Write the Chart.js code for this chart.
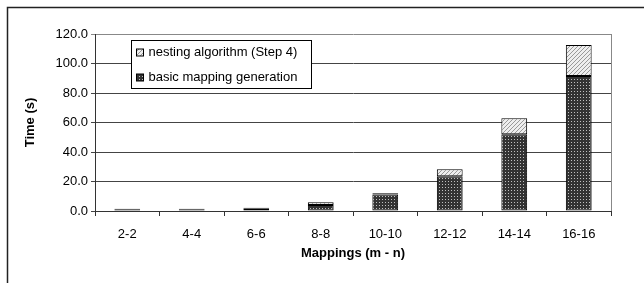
<!DOCTYPE html>
<html>
<head>
<meta charset="utf-8">
<script src="https://cdn.jsdelivr.net/npm/chart.js@4"></script>
<style>
  html, body { margin: 0; padding: 0; background: #fff; }
  #wrap { width: 644px; height: 283px; }
</style>
</head>
<body>
<div id="wrap"><canvas id="myChart" width="644" height="283"></canvas></div>
<script>
const mappings = ["2-2", "4-4", "6-6", "8-8", "10-10", "12-12", "14-14", "16-16"];
const basicTimes = [1.2, 1.2, 1.6, 4.0, 11.2, 23.6, 52.0, 91.5];
const nestingTimes = [0.3, 0.3, 0.6, 1.9, 0.8, 4.7, 10.8, 21.0];
const yTicks = [0, 20, 40, 60, 80, 100, 120];

const FONT = "'Liberation Sans', Arial, sans-serif";

// dark fill with light dots
const makeDots = () => {
  const c = document.createElement("canvas");
  c.width = 3; c.height = 3;
  const g = c.getContext("2d");
  g.fillStyle = "#333";
  g.fillRect(0, 0, 3, 3);
  g.fillStyle = "#c0c0c0";
  g.fillRect(1, 1, 1, 1);
  return g.createPattern(c, "repeat");
};

// light grey with diagonal hatch
const makeHatch = () => {
  const c = document.createElement("canvas");
  c.width = 4; c.height = 4;
  const g = c.getContext("2d");
  g.fillStyle = "#eee";
  g.fillRect(0, 0, 4, 4);
  g.fillStyle = "#999";
  for (let i = 0; i < 4; i++) g.fillRect(i, 3 - i, 1, 1);
  return g.createPattern(c, "repeat");
};

document.addEventListener("DOMContentLoaded", () => {
  const ctx = document.getElementById("myChart").getContext("2d");
  const dots = makeDots();
  const hatch = makeHatch();

  const framePlugin = {
    id: "frame",
    afterDraw(chart) {
      const c = chart.ctx;
      const a = chart.chartArea;
      c.save();
      // outer border (left and top visible)
      c.strokeStyle = "#222";
      c.lineWidth = 1.5;
      c.beginPath();
      c.moveTo(7.5, 283);
      c.lineTo(7.5, 7.5);
      c.lineTo(644, 7.5);
      c.stroke();
      // plot right edge
      c.strokeStyle = "#888";
      c.lineWidth = 1;
      c.beginPath();
      c.moveTo(Math.round(a.right) + 0.5, a.top);
      c.lineTo(Math.round(a.right) + 0.5, a.bottom);
      c.stroke();

      // legend box
      const ds = chart.data.datasets;
      const order = [1, 0];
      const bx = 131.5, by = 40.5, bw = 180, bh = 48;
      c.fillStyle = "#fff";
      c.fillRect(bx, by, bw, bh);
      c.strokeStyle = "#000";
      c.lineWidth = 1;
      c.strokeRect(bx, by, bw, bh);
      c.font = "13px " + FONT;
      c.textBaseline = "middle";
      order.forEach((idx, i) => {
        const y = by + 12 + i * 25;
        c.fillStyle = ds[idx].backgroundColor;
        c.fillRect(bx + 5, y - 3.5, 7, 7);
        c.strokeStyle = "#000";
        c.strokeRect(bx + 5, y - 3.5, 7, 7);
        c.fillStyle = "#000";
        c.fillText(ds[idx].label, bx + 17, y);
      });
      c.restore();
    },
  };

  new Chart(ctx, {
    type: "bar",
    data: {
      labels: mappings,
      datasets: [
        {
          label: "basic mapping generation",
          data: basicTimes,
          backgroundColor: dots,
          borderColor: "#000",
          borderWidth: 1,
          borderSkipped: false,
          barPercentage: 0.4,
          categoryPercentage: 1.0,
        },
        {
          label: "nesting algorithm (Step 4)",
          data: nestingTimes,
          backgroundColor: hatch,
          borderColor: "#000",
          borderWidth: 1,
          borderSkipped: false,
          barPercentage: 0.4,
          categoryPercentage: 1.0,
        },
      ],
    },
    options: {
      responsive: false,
      animation: false,
      layout: { padding: { left: 10, right: 33, top: 34, bottom: 0 } },
      plugins: {
        legend: { display: false },
        tooltip: { enabled: false },
      },
      scales: {
        x: {
          stacked: true,
          afterFit: (s) => { s.height = 72; },
          grid: { drawOnChartArea: false, drawTicks: true, tickLength: 5, color: "#333" },
          border: { color: "#333", width: 1 },
          ticks: { color: "#000", font: { family: FONT, size: 13 }, padding: 11, maxRotation: 0 },
          title: {
            display: true,
            text: "Mappings (m - n)",
            color: "#000",
            font: { family: FONT, size: 13, weight: "bold" },
            padding: { top: 0, bottom: 22 },
          },
        },
        y: {
          stacked: true,
          min: 0,
          max: 120,
          afterFit: (s) => { s.width = 85; },
          afterBuildTicks: (s) => { s.ticks = yTicks.map((v) => ({ value: v })); },
          grid: {
            color: (c) => (c.tick && c.tick.value === 120 ? "#888" : "#444"),
            tickLength: 4,
          },
          border: { color: "#333", width: 1 },
          ticks: {
            color: "#000",
            font: { family: FONT, size: 13 },
            padding: 3,
            callback: (v) => Number(v).toFixed(1),
          },
          title: {
            display: true,
            text: "Time (s)",
            color: "#000",
            font: { family: FONT, size: 13, weight: "bold" },
            padding: { top: 13, bottom: 0 },
          },
        },
      },
    },
    plugins: [framePlugin],
  });
});
</script>
</body>
</html>
